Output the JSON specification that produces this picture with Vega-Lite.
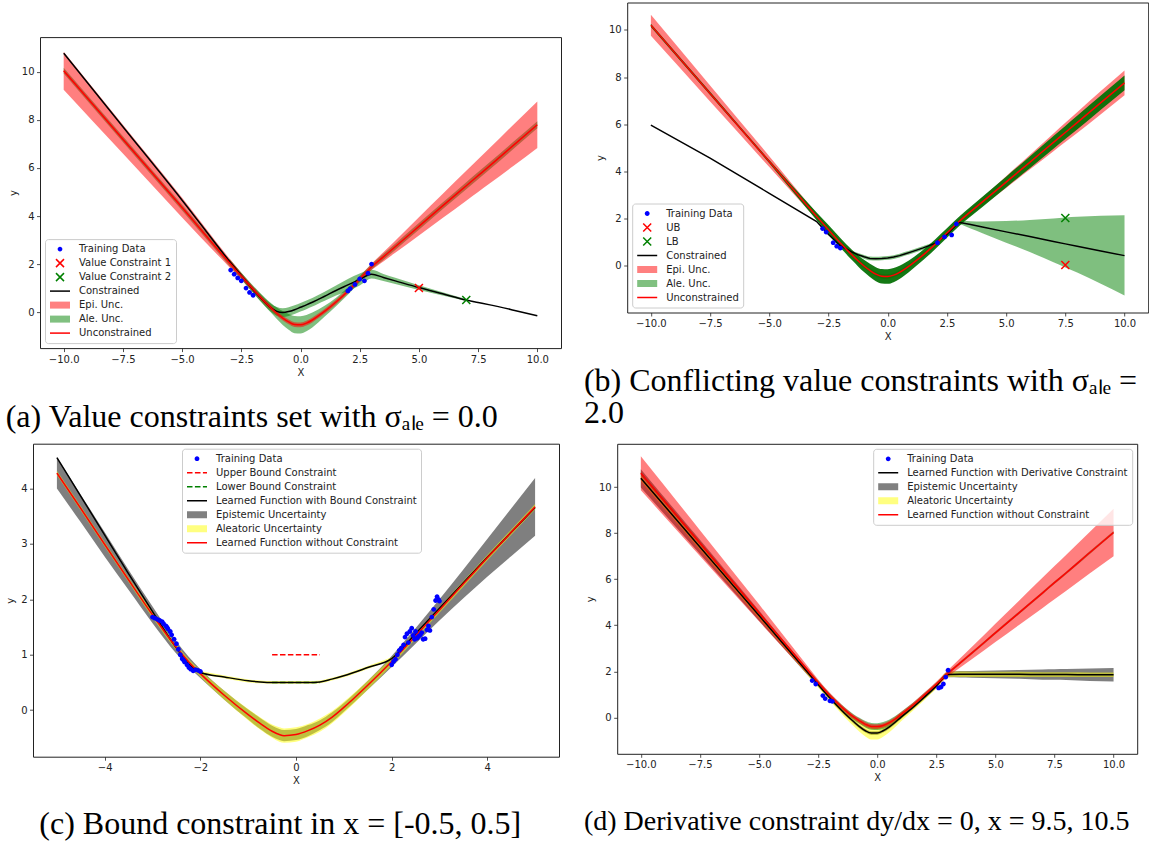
{
  "$schema": "https://vega.github.io/schema/vega-lite/v6.json",
  "padding": {"left": 4, "top": 1.5, "right": 0, "bottom": 0},
  "background": "white",
  "config": {
    "view": {"stroke": "#222", "strokeWidth": 1},
    "axis": {"domain": false, "grid": false, "tickSize": 3.5, "tickWidth": 0.8, "tickColor": "#222", "labelFont": "DejaVu Sans", "labelFontSize": 10, "labelColor": "#222", "labelPadding": 2.5, "titleFont": "DejaVu Sans", "titleFontSize": 10, "titleFontWeight": "normal", "titleColor": "#222", "titlePadding": 3, "labelFlush": false, "labelOverlap": false},
    "legend": {"labelFont": "DejaVu Sans", "labelFontSize": 10, "labelColor": "#222", "labelLimit": 400, "labelOffset": 8, "symbolSize": 400, "symbolStrokeWidth": 1.5, "symbolFillColor": "transparent", "symbolStrokeColor": "transparent", "clipHeight": 12, "rowPadding": 2, "padding": 4, "offset": 5, "fillColor": "rgba(255,255,255,0.8)", "strokeColor": "#cccccc", "cornerRadius": 3, "symbolOffset": 0},
    "title": {"font": "Liberation Serif", "fontSize": 32, "fontWeight": "normal", "color": "#000", "lineHeight": 32}
  },
  "datasets": {
    "a": [
      {"x":-10,"u":10.05,"elo":9.26,"ehi":10.84,"glo":9.93,"ghi":10.17,"c":10.78,"clo":null,"chi":null},
      {"x":-7.5,"u":7.2,"elo":6.6,"ehi":7.8,"glo":7.08,"ghi":7.32,"c":7.72,"clo":null,"chi":null},
      {"x":-5,"u":4.35,"elo":3.94,"ehi":4.76,"glo":4.23,"ghi":4.47,"c":4.66,"clo":null,"chi":null},
      {"x":-3,"u":2.05,"elo":1.87,"ehi":2.23,"glo":1.92,"ghi":2.18,"c":2.12,"clo":2.02,"chi":2.22},
      {"x":-2.5,"u":1.5,"elo":1.37,"ehi":1.63,"glo":1.36,"ghi":1.64,"c":1.52,"clo":1.4,"chi":1.64},
      {"x":-2,"u":0.95,"elo":0.84,"ehi":1.06,"glo":0.8,"ghi":1.1,"c":0.93,"clo":0.79,"chi":1.07},
      {"x":-1.5,"u":0.42,"elo":0.32,"ehi":0.52,"glo":0.24,"ghi":0.6,"c":0.41,"clo":0.25,"chi":0.57},
      {"x":-1.25,"u":0.18,"elo":0.08,"ehi":0.28,"glo":-0.02,"ghi":0.38,"c":0.18,"clo":0.01,"chi":0.35},
      {"x":-1,"u":-0.05,"elo":-0.15,"ehi":0.05,"glo":-0.29,"ghi":0.19,"c":0.03,"clo":-0.15,"chi":0.21},
      {"x":-0.75,"u":-0.25,"elo":-0.35,"ehi":-0.15,"glo":-0.54,"ghi":0.04,"c":-0.02,"clo":-0.2,"chi":0.16},
      {"x":-0.5,"u":-0.41,"elo":-0.51,"ehi":-0.31,"glo":-0.74,"ghi":-0.08,"c":0.02,"clo":-0.16,"chi":0.2},
      {"x":-0.25,"u":-0.52,"elo":-0.62,"ehi":-0.42,"glo":-0.88,"ghi":-0.16,"c":0.1,"clo":-0.08,"chi":0.28},
      {"x":0,"u":-0.53,"elo":-0.63,"ehi":-0.43,"glo":-0.89,"ghi":-0.17,"c":0.2,"clo":0.02,"chi":0.38},
      {"x":0.25,"u":-0.46,"elo":-0.56,"ehi":-0.36,"glo":-0.8,"ghi":-0.12,"c":0.3,"clo":0.12,"chi":0.48},
      {"x":0.5,"u":-0.33,"elo":-0.43,"ehi":-0.23,"glo":-0.64,"ghi":-0.02,"c":0.41,"clo":0.23,"chi":0.59},
      {"x":0.75,"u":-0.16,"elo":-0.26,"ehi":-0.06,"glo":-0.43,"ghi":0.11,"c":0.53,"clo":0.35,"chi":0.71},
      {"x":1,"u":0.02,"elo":-0.08,"ehi":0.12,"glo":-0.21,"ghi":0.25,"c":0.65,"clo":0.46,"chi":0.84},
      {"x":1.5,"u":0.42,"elo":0.32,"ehi":0.52,"glo":0.24,"ghi":0.6,"c":0.9,"clo":0.69,"chi":1.11},
      {"x":2,"u":0.87,"elo":0.77,"ehi":0.97,"glo":0.72,"ghi":1.02,"c":1.13,"clo":0.88,"chi":1.38},
      {"x":2.5,"u":1.37,"elo":1.26,"ehi":1.48,"glo":1.24,"ghi":1.5,"c":1.36,"clo":1.11,"chi":1.61},
      {"x":3,"u":1.88,"elo":1.75,"ehi":2.01,"glo":1.76,"ghi":2.0,"c":1.58,"clo":1.4,"chi":1.76},
      {"x":3.5,"u":2.3,"elo":2.11,"ehi":2.49,"glo":2.17,"ghi":2.43,"c":1.44,"clo":1.29,"chi":1.59},
      {"x":4,"u":2.72,"elo":2.47,"ehi":2.97,"glo":2.59,"ghi":2.85,"c":1.3,"clo":1.17,"chi":1.43},
      {"x":5,"u":3.57,"elo":3.19,"ehi":3.95,"glo":3.43,"ghi":3.71,"c":1.02,"clo":0.92,"chi":1.12},
      {"x":6,"u":4.42,"elo":3.92,"ehi":4.92,"glo":4.28,"ghi":4.56,"c":0.76,"clo":0.69,"chi":0.83},
      {"x":7,"u":5.26,"elo":4.64,"ehi":5.88,"glo":5.11,"ghi":5.41,"c":0.5,"clo":0.46,"chi":0.54},
      {"x":7.5,"u":5.68,"elo":5.0,"ehi":6.36,"glo":5.53,"ghi":5.83,"c":0.4,"clo":null,"chi":null},
      {"x":8,"u":6.1,"elo":5.36,"ehi":6.84,"glo":5.95,"ghi":6.25,"c":0.3,"clo":null,"chi":null},
      {"x":9,"u":6.95,"elo":6.09,"ehi":7.81,"glo":6.8,"ghi":7.1,"c":0.08,"clo":null,"chi":null},
      {"x":10,"u":7.8,"elo":6.83,"ehi":8.77,"glo":7.65,"ghi":7.95,"c":-0.15,"clo":null,"chi":null}
    ],
    "pa": [
      {"x":-2.95,"y":1.75,"s":"Training Data"},{"x":-2.8,"y":1.58,"s":"Training Data"},{"x":-2.65,"y":1.42,"s":"Training Data"},
      {"x":-2.5,"y":1.3,"s":"Training Data"},{"x":-2.3,"y":1.0,"s":"Training Data"},{"x":-2.15,"y":0.82,"s":"Training Data"},
      {"x":-2.0,"y":0.7,"s":"Training Data"},{"x":2.0,"y":0.88,"s":"Training Data"},{"x":2.1,"y":0.98,"s":"Training Data"},
      {"x":2.3,"y":1.15,"s":"Training Data"},{"x":2.5,"y":1.38,"s":"Training Data"},{"x":2.7,"y":1.3,"s":"Training Data"},
      {"x":2.85,"y":1.62,"s":"Training Data"},{"x":3.0,"y":2.0,"s":"Training Data"},
      {"x":5,"y":1.0,"s":"Value Constraint 1"},
      {"x":7,"y":0.5,"s":"Value Constraint 2"}
    ],
    "b": [
      {"x":-10,"u":10.2,"elo":9.75,"ehi":10.65,"glo":10.13,"ghi":10.27,"c":5.95,"clo":null,"chi":null},
      {"x":-7.5,"u":7.3,"elo":6.96,"ehi":7.64,"glo":7.23,"ghi":7.37,"c":4.55,"clo":null,"chi":null},
      {"x":-5,"u":4.4,"elo":4.17,"ehi":4.63,"glo":4.33,"ghi":4.47,"c":3.05,"clo":null,"chi":null},
      {"x":-3,"u":2.07,"elo":1.94,"ehi":2.2,"glo":1.9,"ghi":2.24,"c":1.85,"clo":null,"chi":null},
      {"x":-2.5,"u":1.5,"elo":1.39,"ehi":1.61,"glo":1.3,"ghi":1.7,"c":1.3,"clo":null,"chi":null},
      {"x":-2,"u":0.94,"elo":0.84,"ehi":1.04,"glo":0.73,"ghi":1.15,"c":0.82,"clo":null,"chi":null},
      {"x":-1.5,"u":0.42,"elo":0.32,"ehi":0.52,"glo":0.2,"ghi":0.64,"c":0.55,"clo":0.49,"chi":0.61},
      {"x":-1.25,"u":0.18,"elo":0.08,"ehi":0.28,"glo":-0.06,"ghi":0.42,"c":0.44,"clo":0.37,"chi":0.51},
      {"x":-1,"u":-0.04,"elo":-0.14,"ehi":0.06,"glo":-0.3,"ghi":0.22,"c":0.35,"clo":0.27,"chi":0.43},
      {"x":-0.75,"u":-0.23,"elo":-0.33,"ehi":-0.13,"glo":-0.51,"ghi":0.05,"c":0.28,"clo":0.2,"chi":0.36},
      {"x":-0.5,"u":-0.39,"elo":-0.49,"ehi":-0.29,"glo":-0.69,"ghi":-0.09,"c":0.27,"clo":0.19,"chi":0.35},
      {"x":-0.25,"u":-0.48,"elo":-0.58,"ehi":-0.38,"glo":-0.79,"ghi":-0.17,"c":0.28,"clo":0.2,"chi":0.36},
      {"x":0,"u":-0.49,"elo":-0.59,"ehi":-0.39,"glo":-0.8,"ghi":-0.18,"c":0.3,"clo":0.22,"chi":0.38},
      {"x":0.25,"u":-0.43,"elo":-0.53,"ehi":-0.33,"glo":-0.73,"ghi":-0.13,"c":0.34,"clo":0.26,"chi":0.42},
      {"x":0.5,"u":-0.31,"elo":-0.41,"ehi":-0.21,"glo":-0.59,"ghi":-0.03,"c":0.4,"clo":0.32,"chi":0.48},
      {"x":0.75,"u":-0.15,"elo":-0.25,"ehi":-0.05,"glo":-0.41,"ghi":0.11,"c":0.48,"clo":0.4,"chi":0.56},
      {"x":1,"u":0.03,"elo":-0.07,"ehi":0.13,"glo":-0.21,"ghi":0.27,"c":0.56,"clo":0.48,"chi":0.64},
      {"x":1.5,"u":0.43,"elo":0.33,"ehi":0.53,"glo":0.21,"ghi":0.65,"c":0.73,"clo":0.65,"chi":0.81},
      {"x":2,"u":0.88,"elo":0.78,"ehi":0.98,"glo":0.67,"ghi":1.09,"c":0.92,"clo":0.84,"chi":1.0},
      {"x":2.5,"u":1.36,"elo":1.26,"ehi":1.46,"glo":1.16,"ghi":1.56,"c":1.3,"clo":1.23,"chi":1.37},
      {"x":3,"u":1.84,"elo":1.72,"ehi":1.96,"glo":1.64,"ghi":2.04,"c":1.82,"clo":1.74,"chi":1.9},
      {"x":3.5,"u":2.27,"elo":2.12,"ehi":2.42,"glo":2.06,"ghi":2.48,"c":1.72,"clo":1.55,"chi":1.86},
      {"x":4,"u":2.69,"elo":2.51,"ehi":2.87,"glo":2.47,"ghi":2.91,"c":1.62,"clo":1.35,"chi":1.85},
      {"x":5,"u":3.53,"elo":3.28,"ehi":3.78,"glo":3.3,"ghi":3.76,"c":1.41,"clo":0.95,"chi":1.87},
      {"x":6,"u":4.37,"elo":4.06,"ehi":4.68,"glo":4.12,"ghi":4.62,"c":1.21,"clo":0.55,"chi":1.92},
      {"x":7,"u":5.22,"elo":4.84,"ehi":5.6,"glo":4.95,"ghi":5.49,"c":1.0,"clo":0.12,"chi":1.98},
      {"x":7.5,"u":5.64,"elo":5.23,"ehi":6.05,"glo":5.36,"ghi":5.92,"c":0.9,"clo":-0.1,"chi":2.02},
      {"x":8,"u":6.06,"elo":5.62,"ehi":6.5,"glo":5.77,"ghi":6.35,"c":0.8,"clo":-0.32,"chi":2.05},
      {"x":9,"u":6.91,"elo":6.42,"ehi":7.4,"glo":6.61,"ghi":7.21,"c":0.6,"clo":-0.8,"chi":2.1},
      {"x":10,"u":7.75,"elo":7.22,"ehi":8.28,"glo":7.44,"ghi":8.06,"c":0.4,"clo":-1.3,"chi":2.12}
    ],
    "pb": [
      {"x":-2.75,"y":1.55,"s":"Training Data"},{"x":-2.6,"y":1.4,"s":"Training Data"},{"x":-2.3,"y":0.95,"s":"Training Data"},
      {"x":-2.15,"y":0.8,"s":"Training Data"},{"x":-2.0,"y":0.72,"s":"Training Data"},{"x":2.1,"y":0.95,"s":"Training Data"},
      {"x":2.4,"y":1.2,"s":"Training Data"},{"x":2.7,"y":1.28,"s":"Training Data"},{"x":2.9,"y":1.75,"s":"Training Data"},
      {"x":7.5,"y":0.0,"s":"UB"},
      {"x":7.5,"y":2.0,"s":"LB"}
    ],
    "c": [
      {"x":-5,"u":4.28,"elo":4.0,"ehi":4.56,"ylo":4.24,"yhi":4.32,"c":4.56,"clo":null,"chi":null},
      {"x":-4.5,"u":3.64,"elo":3.39,"ehi":3.89,"ylo":3.6,"yhi":3.68,"c":3.86,"clo":null,"chi":null},
      {"x":-4,"u":2.99,"elo":2.77,"ehi":3.21,"ylo":2.95,"yhi":3.03,"c":3.16,"clo":null,"chi":null},
      {"x":-3.5,"u":2.35,"elo":2.17,"ehi":2.53,"ylo":2.31,"yhi":2.39,"c":2.46,"clo":null,"chi":null},
      {"x":-3,"u":1.72,"elo":1.57,"ehi":1.87,"ylo":1.67,"yhi":1.77,"c":1.78,"clo":null,"chi":null},
      {"x":-2.5,"u":1.13,"elo":1.02,"ehi":1.24,"ylo":1.08,"yhi":1.18,"c":1.12,"clo":null,"chi":null},
      {"x":-2.25,"u":0.88,"elo":0.79,"ehi":0.97,"ylo":0.83,"yhi":0.93,"c":0.84,"clo":null,"chi":null},
      {"x":-2,"u":0.66,"elo":0.58,"ehi":0.74,"ylo":0.6,"yhi":0.72,"c":0.68,"clo":0.655,"chi":0.705},
      {"x":-1.5,"u":0.27,"elo":0.19,"ehi":0.35,"ylo":0.19,"yhi":0.35,"c":0.6,"clo":0.575,"chi":0.625},
      {"x":-1,"u":-0.08,"elo":-0.17,"ehi":0.01,"ylo":-0.18,"yhi":0.02,"c":0.53,"clo":0.5,"chi":0.555},
      {"x":-0.75,"u":-0.24,"elo":-0.34,"ehi":-0.14,"ylo":-0.35,"yhi":-0.13,"c":0.51,"clo":0.485,"chi":0.535},
      {"x":-0.5,"u":-0.38,"elo":-0.48,"ehi":-0.28,"ylo":-0.5,"yhi":-0.26,"c":0.5,"clo":0.475,"chi":0.525},
      {"x":-0.35,"u":-0.44,"elo":-0.54,"ehi":-0.34,"ylo":-0.57,"yhi":-0.31,"c":0.5,"clo":0.475,"chi":0.525},
      {"x":-0.25,"u":-0.46,"elo":-0.56,"ehi":-0.36,"ylo":-0.59,"yhi":-0.33,"c":0.5,"clo":0.475,"chi":0.525},
      {"x":0,"u":-0.44,"elo":-0.54,"ehi":-0.34,"ylo":-0.57,"yhi":-0.31,"c":0.5,"clo":0.475,"chi":0.525},
      {"x":0.25,"u":-0.37,"elo":-0.47,"ehi":-0.27,"ylo":-0.49,"yhi":-0.25,"c":0.5,"clo":0.475,"chi":0.525},
      {"x":0.5,"u":-0.27,"elo":-0.36,"ehi":-0.18,"ylo":-0.39,"yhi":-0.15,"c":0.51,"clo":0.485,"chi":0.535},
      {"x":0.75,"u":-0.13,"elo":-0.22,"ehi":-0.04,"ylo":-0.24,"yhi":-0.02,"c":0.56,"clo":0.535,"chi":0.585},
      {"x":1,"u":0.05,"elo":-0.03,"ehi":0.13,"ylo":-0.05,"yhi":0.15,"c":0.62,"clo":0.595,"chi":0.645},
      {"x":1.5,"u":0.45,"elo":0.37,"ehi":0.53,"ylo":0.37,"yhi":0.53,"c":0.77,"clo":0.745,"chi":0.795},
      {"x":2,"u":0.88,"elo":0.78,"ehi":0.98,"ylo":0.81,"yhi":0.95,"c":0.93,"clo":0.905,"chi":0.955},
      {"x":2.5,"u":1.34,"elo":1.2,"ehi":1.48,"ylo":1.29,"yhi":1.39,"c":1.38,"clo":null,"chi":null},
      {"x":3,"u":1.81,"elo":1.62,"ehi":2.0,"ylo":1.76,"yhi":1.86,"c":1.84,"clo":null,"chi":null},
      {"x":3.5,"u":2.28,"elo":2.02,"ehi":2.54,"ylo":2.23,"yhi":2.33,"c":2.3,"clo":null,"chi":null},
      {"x":4,"u":2.75,"elo":2.41,"ehi":3.09,"ylo":2.7,"yhi":2.8,"c":2.76,"clo":null,"chi":null},
      {"x":4.5,"u":3.21,"elo":2.78,"ehi":3.64,"ylo":3.16,"yhi":3.26,"c":3.21,"clo":null,"chi":null},
      {"x":5,"u":3.67,"elo":3.15,"ehi":4.19,"ylo":3.62,"yhi":3.72,"c":3.66,"clo":null,"chi":null}
    ],
    "cb": [
      {"x":-0.5,"y":1,"s":"Upper Bound Constraint"},{"x":0.5,"y":1,"s":"Upper Bound Constraint"},
      {"x":-0.5,"y":0.5,"s":"Lower Bound Constraint"},{"x":0.5,"y":0.5,"s":"Lower Bound Constraint"}
    ],
    "pc": [
      {"x":-3.0,"y":1.68,"s":"Training Data"},{"x":-2.95,"y":1.66,"s":"Training Data"},{"x":-2.9,"y":1.64,"s":"Training Data"},
      {"x":-2.85,"y":1.62,"s":"Training Data"},{"x":-2.8,"y":1.6,"s":"Training Data"},{"x":-2.77,"y":1.56,"s":"Training Data"},
      {"x":-2.72,"y":1.52,"s":"Training Data"},{"x":-2.7,"y":1.5,"s":"Training Data"},{"x":-2.68,"y":1.47,"s":"Training Data"},
      {"x":-2.63,"y":1.42,"s":"Training Data"},{"x":-2.6,"y":1.36,"s":"Training Data"},{"x":-2.55,"y":1.28,"s":"Training Data"},
      {"x":-2.5,"y":1.2,"s":"Training Data"},{"x":-2.46,"y":1.1,"s":"Training Data"},{"x":-2.42,"y":1.0,"s":"Training Data"},
      {"x":-2.38,"y":0.93,"s":"Training Data"},{"x":-2.35,"y":0.9,"s":"Training Data"},{"x":-2.33,"y":0.87,"s":"Training Data"},
      {"x":-2.28,"y":0.82,"s":"Training Data"},{"x":-2.24,"y":0.77,"s":"Training Data"},{"x":-2.2,"y":0.74,"s":"Training Data"},
      {"x":-2.15,"y":0.71,"s":"Training Data"},{"x":-2.1,"y":0.73,"s":"Training Data"},{"x":-2.05,"y":0.72,"s":"Training Data"},
      {"x":-2.0,"y":0.7,"s":"Training Data"},
      {"x":2.0,"y":0.82,"s":"Training Data"},{"x":2.04,"y":0.88,"s":"Training Data"},{"x":2.08,"y":0.92,"s":"Training Data"},
      {"x":2.12,"y":1.0,"s":"Training Data"},{"x":2.16,"y":1.08,"s":"Training Data"},{"x":2.2,"y":1.12,"s":"Training Data"},
      {"x":2.25,"y":1.18,"s":"Training Data"},{"x":2.28,"y":1.32,"s":"Training Data"},{"x":2.32,"y":1.38,"s":"Training Data"},
      {"x":2.35,"y":1.22,"s":"Training Data"},{"x":2.38,"y":1.42,"s":"Training Data"},{"x":2.42,"y":1.48,"s":"Training Data"},
      {"x":2.45,"y":1.35,"s":"Training Data"},{"x":2.48,"y":1.28,"s":"Training Data"},{"x":2.5,"y":1.42,"s":"Training Data"},
      {"x":2.53,"y":1.3,"s":"Training Data"},{"x":2.56,"y":1.33,"s":"Training Data"},{"x":2.6,"y":1.36,"s":"Training Data"},
      {"x":2.63,"y":1.4,"s":"Training Data"},{"x":2.66,"y":1.28,"s":"Training Data"},{"x":2.7,"y":1.29,"s":"Training Data"},
      {"x":2.74,"y":1.45,"s":"Training Data"},{"x":2.77,"y":1.52,"s":"Training Data"},{"x":2.8,"y":1.44,"s":"Training Data"},
      {"x":2.84,"y":1.68,"s":"Training Data"},{"x":2.88,"y":1.82,"s":"Training Data"},{"x":2.92,"y":1.98,"s":"Training Data"},
      {"x":2.95,"y":2.05,"s":"Training Data"},{"x":2.98,"y":2.0,"s":"Training Data"},{"x":3.0,"y":1.97,"s":"Training Data"}
    ],
    "d": [
      {"x":-10,"u":10.6,"elo":9.86,"ehi":11.34,"glo":10.54,"ghi":10.66,"c":10.38,"klo":9.98,"khi":10.78,"ylo":10.26,"yhi":10.5},
      {"x":-7.5,"u":7.57,"elo":7.01,"ehi":8.13,"glo":7.51,"ghi":7.63,"c":7.4,"klo":7.09,"khi":7.71,"ylo":7.28,"yhi":7.52},
      {"x":-5,"u":4.54,"elo":4.17,"ehi":4.91,"glo":4.48,"ghi":4.6,"c":4.42,"klo":4.2,"khi":4.64,"ylo":4.3,"yhi":4.54},
      {"x":-3,"u":2.12,"elo":1.94,"ehi":2.3,"glo":2.05,"ghi":2.19,"c":2.03,"klo":1.9,"khi":2.16,"ylo":1.91,"yhi":2.15},
      {"x":-2.5,"u":1.52,"elo":1.39,"ehi":1.65,"glo":1.44,"ghi":1.6,"c":1.43,"klo":1.33,"khi":1.53,"ylo":1.31,"yhi":1.55},
      {"x":-2,"u":0.95,"elo":0.84,"ehi":1.06,"glo":0.86,"ghi":1.04,"c":0.84,"klo":0.76,"khi":0.92,"ylo":0.71,"yhi":0.97},
      {"x":-1.5,"u":0.45,"elo":0.35,"ehi":0.55,"glo":0.35,"ghi":0.55,"c":0.3,"klo":0.22,"khi":0.38,"ylo":0.15,"yhi":0.45},
      {"x":-1.25,"u":0.22,"elo":0.12,"ehi":0.32,"glo":0.11,"ghi":0.33,"c":0.05,"klo":-0.03,"khi":0.13,"ylo":-0.12,"yhi":0.22},
      {"x":-1,"u":0.02,"elo":-0.08,"ehi":0.12,"glo":-0.1,"ghi":0.14,"c":-0.18,"klo":-0.26,"khi":-0.1,"ylo":-0.37,"yhi":0.01},
      {"x":-0.75,"u":-0.15,"elo":-0.25,"ehi":-0.05,"glo":-0.28,"ghi":-0.02,"c":-0.4,"klo":-0.48,"khi":-0.32,"ylo":-0.62,"yhi":-0.18},
      {"x":-0.5,"u":-0.3,"elo":-0.4,"ehi":-0.2,"glo":-0.44,"ghi":-0.16,"c":-0.58,"klo":-0.66,"khi":-0.5,"ylo":-0.83,"yhi":-0.33},
      {"x":-0.25,"u":-0.39,"elo":-0.49,"ehi":-0.29,"glo":-0.54,"ghi":-0.24,"c":-0.68,"klo":-0.76,"khi":-0.6,"ylo":-0.96,"yhi":-0.4},
      {"x":0,"u":-0.4,"elo":-0.5,"ehi":-0.3,"glo":-0.55,"ghi":-0.25,"c":-0.68,"klo":-0.76,"khi":-0.6,"ylo":-0.96,"yhi":-0.4},
      {"x":0.25,"u":-0.35,"elo":-0.45,"ehi":-0.25,"glo":-0.5,"ghi":-0.2,"c":-0.58,"klo":-0.66,"khi":-0.5,"ylo":-0.84,"yhi":-0.32},
      {"x":0.5,"u":-0.24,"elo":-0.34,"ehi":-0.14,"glo":-0.38,"ghi":-0.1,"c":-0.42,"klo":-0.5,"khi":-0.34,"ylo":-0.66,"yhi":-0.18},
      {"x":0.75,"u":-0.08,"elo":-0.18,"ehi":0.02,"glo":-0.21,"ghi":0.05,"c":-0.22,"klo":-0.3,"khi":-0.14,"ylo":-0.43,"yhi":-0.01},
      {"x":1,"u":0.12,"elo":0.02,"ehi":0.22,"glo":0.0,"ghi":0.24,"c":0.0,"klo":-0.08,"khi":0.08,"ylo":-0.18,"yhi":0.18},
      {"x":1.5,"u":0.53,"elo":0.43,"ehi":0.63,"glo":0.43,"ghi":0.63,"c":0.42,"klo":0.34,"khi":0.5,"ylo":0.28,"yhi":0.56},
      {"x":2,"u":0.98,"elo":0.88,"ehi":1.08,"glo":0.89,"ghi":1.07,"c":0.88,"klo":0.8,"khi":0.96,"ylo":0.76,"yhi":1.0},
      {"x":2.5,"u":1.44,"elo":1.33,"ehi":1.55,"glo":1.36,"ghi":1.52,"c":1.36,"klo":1.27,"khi":1.45,"ylo":1.24,"yhi":1.48},
      {"x":3,"u":1.92,"elo":1.78,"ehi":2.06,"glo":1.85,"ghi":1.99,"c":1.86,"klo":1.74,"khi":1.98,"ylo":1.74,"yhi":1.98},
      {"x":3.5,"u":2.36,"elo":2.16,"ehi":2.56,"glo":2.3,"ghi":2.42,"c":1.87,"klo":1.73,"khi":2.01,"ylo":1.75,"yhi":1.99},
      {"x":4,"u":2.79,"elo":2.52,"ehi":3.06,"glo":2.73,"ghi":2.85,"c":1.87,"klo":1.72,"khi":2.02,"ylo":1.76,"yhi":1.98},
      {"x":5,"u":3.67,"elo":3.27,"ehi":4.07,"glo":3.61,"ghi":3.73,"c":1.87,"klo":1.7,"khi":2.04,"ylo":1.76,"yhi":1.98},
      {"x":6,"u":4.54,"elo":4.01,"ehi":5.07,"glo":4.48,"ghi":4.6,"c":1.87,"klo":1.68,"khi":2.06,"ylo":1.76,"yhi":1.98},
      {"x":7,"u":5.41,"elo":4.75,"ehi":6.07,"glo":5.35,"ghi":5.47,"c":1.86,"klo":1.64,"khi":2.08,"ylo":1.76,"yhi":1.96},
      {"x":7.5,"u":5.85,"elo":5.13,"ehi":6.57,"glo":5.79,"ghi":5.91,"c":1.86,"klo":1.63,"khi":2.09,"ylo":1.76,"yhi":1.96},
      {"x":8,"u":6.28,"elo":5.5,"ehi":7.06,"glo":6.22,"ghi":6.34,"c":1.86,"klo":1.62,"khi":2.1,"ylo":1.76,"yhi":1.96},
      {"x":9,"u":7.16,"elo":6.26,"ehi":8.06,"glo":7.1,"ghi":7.22,"c":1.85,"klo":1.58,"khi":2.12,"ylo":1.75,"yhi":1.95},
      {"x":10,"u":8.03,"elo":7.0,"ehi":9.06,"glo":7.97,"ghi":8.09,"c":1.85,"klo":1.56,"khi":2.14,"ylo":1.75,"yhi":1.95}
    ],
    "pd": [
      {"x":-2.75,"y":1.6,"s":"Training Data"},{"x":-2.6,"y":1.45,"s":"Training Data"},{"x":-2.3,"y":0.95,"s":"Training Data"},
      {"x":-2.2,"y":0.82,"s":"Training Data"},{"x":-2.0,"y":0.72,"s":"Training Data"},{"x":-1.9,"y":0.7,"s":"Training Data"},
      {"x":2.6,"y":1.28,"s":"Training Data"},{"x":2.7,"y":1.32,"s":"Training Data"},{"x":2.8,"y":1.45,"s":"Training Data"},
      {"x":2.9,"y":1.75,"s":"Training Data"},{"x":3.0,"y":2.05,"s":"Training Data"}
    ]
  },
  "columns": 2,
  "spacing": 20.2,
  "resolve": {"scale": {"fill": "independent", "stroke": "independent", "shape": "independent"}, "legend": {"fill": "independent", "stroke": "independent", "shape": "independent"}},
  "concat": [
    {
      "columns": 1,
      "spacing": 8.6,
      "resolve": {"scale": {"fill": "independent", "stroke": "independent", "shape": "independent"}, "legend": {"fill": "independent", "stroke": "independent", "shape": "independent"}},
      "concat": [
        {"width": 1, "height": 24.7, "data": {"values": []}, "mark": "point", "view": {"stroke": null}},
        {
          "columns": 2,
          "spacing": 0,
          "resolve": {"scale": {"fill": "independent", "stroke": "independent", "shape": "independent"}, "legend": {"fill": "independent", "stroke": "independent", "shape": "independent"}},
          "concat": [
            {"width": 1, "height": 1, "data": {"values": []}, "mark": "point", "view": {"stroke": null}},
            {
              "width": 521, "height": 311,
              "title": {"text": "(a) Value constraints set with σₐₗₑ = 0.0", "orient": "bottom", "anchor": "start", "frame": "group", "dx": -34.3, "offset": 25},
              "encoding": {"x": {"field": "x", "type": "quantitative", "title": "X", "scale": {"domain": [-11, 11], "nice": false, "zero": false}, "axis": {"values": [-10, -7.5, -5, -2.5, 0, 2.5, 5, 7.5, 10], "format": ".1f"}}},
              "layer": [
                {"data": {"name": "a"}, "mark": {"type": "area", "color": "#008000", "opacity": 0.5, "interpolate": "monotone"},
                 "encoding": {"y": {"field": "glo", "type": "quantitative", "title": "y", "scale": {"domain": [-1.5, 11.45], "nice": false, "zero": false}, "axis": {"values": [0, 2, 4, 6, 8, 10], "format": "d"}}, "y2": {"field": "ghi"}}},
                {"data": {"name": "a"}, "transform": [{"filter": "datum.clo != null"}], "mark": {"type": "area", "color": "#008000", "opacity": 0.5, "interpolate": "monotone"},
                 "encoding": {"y": {"field": "clo", "type": "quantitative", "title": "y", "scale": {"domain": [-1.5, 11.45], "nice": false, "zero": false}}, "y2": {"field": "chi"}}},
                {"data": {"name": "a"}, "mark": {"type": "area", "color": "#ff0000", "opacity": 0.5, "interpolate": "monotone"},
                 "encoding": {"y": {"field": "elo", "type": "quantitative", "title": "y", "scale": {"domain": [-1.5, 11.45], "nice": false, "zero": false}}, "y2": {"field": "ehi"}}},
                {"data": {"name": "a"}, "mark": {"type": "line", "color": "#000000", "strokeWidth": 1.5, "interpolate": "monotone"},
                 "encoding": {"y": {"field": "c", "type": "quantitative", "title": "y", "scale": {"domain": [-1.5, 11.45], "nice": false, "zero": false}}}},
                {"data": {"name": "a"}, "mark": {"type": "line", "color": "#ff0000", "strokeWidth": 1.5, "interpolate": "monotone"},
                 "encoding": {"y": {"field": "u", "type": "quantitative", "title": "y", "scale": {"domain": [-1.5, 11.45], "nice": false, "zero": false}}}},
                {"data": {"name": "pa"}, "mark": {"type": "point", "size": 400, "strokeWidth": 1.5, "opacity": 1},
                 "encoding": {
                   "y": {"field": "y", "type": "quantitative", "title": "y", "scale": {"domain": [-1.5, 11.45], "nice": false, "zero": false}},
                   "fill": {"field": "s", "type": "nominal", "scale": {"domain": ["Training Data", "Value Constraint 1", "Value Constraint 2", "Constrained", "Epi. Unc.", "Ale. Unc.", "Unconstrained"], "range": ["#0000ff", "transparent", "transparent", "transparent", "#ff8080", "#80c080", "transparent"]}, "legend": {"orient": "bottom-left", "title": null}},
                   "stroke": {"field": "s", "type": "nominal", "scale": {"domain": ["Training Data", "Value Constraint 1", "Value Constraint 2", "Constrained", "Epi. Unc.", "Ale. Unc.", "Unconstrained"], "range": ["transparent", "#ff0000", "#008000", "#000000", "transparent", "transparent", "#ff0000"]}, "legend": {"orient": "bottom-left", "title": null}},
                   "shape": {"field": "s", "type": "nominal", "scale": {"domain": ["Training Data", "Value Constraint 1", "Value Constraint 2", "Constrained", "Epi. Unc.", "Ale. Unc.", "Unconstrained"], "range": ["M-0.24,0A0.24,0.24,0,1,1,0.24,0A0.24,0.24,0,1,1,-0.24,0Z", "M-0.4,-0.4L0.4,0.4M-0.4,0.4L0.4,-0.4", "M-0.4,-0.4L0.4,0.4M-0.4,0.4L0.4,-0.4", "M-1,0L1,0", "M-1,-0.35L1,-0.35L1,0.35L-1,0.35Z", "M-1,-0.35L1,-0.35L1,0.35L-1,0.35Z", "M-1,0L1,0"]}, "legend": {"orient": "bottom-left", "title": null}}
                 }}
              ]
            }
          ]
        },
        {
          "columns": 2,
          "spacing": 0,
          "resolve": {"scale": {"fill": "independent", "stroke": "independent", "shape": "independent"}, "legend": {"fill": "independent", "stroke": "independent", "shape": "independent"}},
          "concat": [
            {"width": 1, "height": 1, "data": {"values": []}, "mark": "point", "view": {"stroke": null}},
            {
              "width": 526, "height": 313,
              "title": {"text": "(c) Bound constraint in x = [-0.5, 0.5]", "orient": "bottom", "anchor": "start", "frame": "group", "dx": 6.3, "offset": 23.4},
              "encoding": {"x": {"field": "x", "type": "quantitative", "title": "X", "scale": {"domain": [-5.5, 5.5], "nice": false, "zero": false}, "axis": {"values": [-4, -2, 0, 2, 4], "format": "d"}}},
              "layer": [
                {"data": {"name": "c"}, "mark": {"type": "area", "color": "#000000", "opacity": 0.5, "interpolate": "monotone"},
                 "encoding": {"y": {"field": "elo", "type": "quantitative", "title": "y", "scale": {"domain": [-0.84, 4.81], "nice": false, "zero": false}, "axis": {"values": [0, 1, 2, 3, 4], "format": "d", "titlePadding": 5}}, "y2": {"field": "ehi"}}},
                {"data": {"name": "c"}, "mark": {"type": "area", "color": "#ffff00", "opacity": 0.5, "interpolate": "monotone"},
                 "encoding": {"y": {"field": "ylo", "type": "quantitative", "title": "y", "scale": {"domain": [-0.84, 4.81], "nice": false, "zero": false}}, "y2": {"field": "yhi"}}},
                {"data": {"name": "c"}, "transform": [{"filter": "datum.clo != null"}], "mark": {"type": "area", "color": "#ffff00", "opacity": 0.5, "interpolate": "monotone"},
                 "encoding": {"y": {"field": "clo", "type": "quantitative", "title": "y", "scale": {"domain": [-0.84, 4.81], "nice": false, "zero": false}}, "y2": {"field": "chi"}}},
                {"data": {"name": "cb"}, "transform": [{"filter": "datum.s == 'Upper Bound Constraint'"}], "mark": {"type": "line", "color": "#ff0000", "strokeWidth": 1.5, "strokeDash": [5.5, 2.4]},
                 "encoding": {"y": {"field": "y", "type": "quantitative", "title": "y", "scale": {"domain": [-0.84, 4.81], "nice": false, "zero": false}}}},
                {"data": {"name": "cb"}, "transform": [{"filter": "datum.s == 'Lower Bound Constraint'"}], "mark": {"type": "line", "color": "#008000", "strokeWidth": 1.5, "strokeDash": [5.5, 2.4]},
                 "encoding": {"y": {"field": "y", "type": "quantitative", "title": "y", "scale": {"domain": [-0.84, 4.81], "nice": false, "zero": false}}}},
                {"data": {"name": "c"}, "mark": {"type": "line", "color": "#000000", "strokeWidth": 1.5, "interpolate": "monotone"},
                 "encoding": {"y": {"field": "c", "type": "quantitative", "title": "y", "scale": {"domain": [-0.84, 4.81], "nice": false, "zero": false}}}},
                {"data": {"name": "c"}, "mark": {"type": "line", "color": "#ff0000", "strokeWidth": 1.5, "interpolate": "monotone"},
                 "encoding": {"y": {"field": "u", "type": "quantitative", "title": "y", "scale": {"domain": [-0.84, 4.81], "nice": false, "zero": false}}}},
                {"data": {"name": "pc"}, "mark": {"type": "point", "size": 400, "strokeWidth": 1.5, "opacity": 1},
                 "encoding": {
                   "y": {"field": "y", "type": "quantitative", "title": "y", "scale": {"domain": [-0.84, 4.81], "nice": false, "zero": false}},
                   "fill": {"field": "s", "type": "nominal", "scale": {"domain": ["Training Data", "Upper Bound Constraint", "Lower Bound Constraint", "Learned Function with Bound Constraint", "Epistemic Uncertainty", "Aleatoric Uncertainty", "Learned Function without Constraint"], "range": ["#0000ff", "transparent", "transparent", "transparent", "#808080", "#ffff80", "transparent"]}, "legend": {"orient": "none", "legendX": 149, "legendY": 5, "title": null}},
                   "stroke": {"field": "s", "type": "nominal", "scale": {"domain": ["Training Data", "Upper Bound Constraint", "Lower Bound Constraint", "Learned Function with Bound Constraint", "Epistemic Uncertainty", "Aleatoric Uncertainty", "Learned Function without Constraint"], "range": ["transparent", "#ff0000", "#008000", "#000000", "transparent", "transparent", "#ff0000"]}, "legend": {"orient": "none", "legendX": 149, "legendY": 5, "title": null}},
                   "shape": {"field": "s", "type": "nominal", "scale": {"domain": ["Training Data", "Upper Bound Constraint", "Lower Bound Constraint", "Learned Function with Bound Constraint", "Epistemic Uncertainty", "Aleatoric Uncertainty", "Learned Function without Constraint"], "range": ["M-0.24,0A0.24,0.24,0,1,1,0.24,0A0.24,0.24,0,1,1,-0.24,0Z", "M-1,0L-0.45,0M-0.21,0L0.35,0M0.59,0L1,0", "M-1,0L-0.45,0M-0.21,0L0.35,0M0.59,0L1,0", "M-1,0L1,0", "M-1,-0.35L1,-0.35L1,0.35L-1,0.35Z", "M-1,-0.35L1,-0.35L1,0.35L-1,0.35Z", "M-1,0L1,0"]}, "legend": {"orient": "none", "legendX": 149, "legendY": 5, "title": null}}
                 }}
              ]
            }
          ]
        }
      ]
    },
    {
      "columns": 1,
      "spacing": 13.3,
      "resolve": {"scale": {"fill": "independent", "stroke": "independent", "shape": "independent"}, "legend": {"fill": "independent", "stroke": "independent", "shape": "independent"}},
      "concat": [
        {
          "columns": 2,
          "spacing": 0,
          "resolve": {"scale": {"fill": "independent", "stroke": "independent", "shape": "independent"}, "legend": {"fill": "independent", "stroke": "independent", "shape": "independent"}},
          "concat": [
            {"width": 1, "height": 1, "data": {"values": []}, "mark": "point", "view": {"stroke": null}},
            {
              "width": 521, "height": 310,
              "title": {"text": ["(b) Conflicting value constraints with σₐₗₑ =", "2.0"], "orient": "bottom", "anchor": "start", "frame": "group", "dx": -43.3, "offset": 24},
              "encoding": {"x": {"field": "x", "type": "quantitative", "title": "X", "scale": {"domain": [-11, 11], "nice": false, "zero": false}, "axis": {"values": [-10, -7.5, -5, -2.5, 0, 2.5, 5, 7.5, 10], "format": ".1f"}}},
              "layer": [
                {"data": {"name": "b"}, "mark": {"type": "area", "color": "#ff0000", "opacity": 0.5, "interpolate": "monotone"},
                 "encoding": {"y": {"field": "elo", "type": "quantitative", "title": "y", "scale": {"domain": [-2.02, 11.17], "nice": false, "zero": false}, "axis": {"values": [0, 2, 4, 6, 8, 10], "format": "d"}}, "y2": {"field": "ehi"}}},
                {"data": {"name": "b"}, "mark": {"type": "area", "color": "#006e00", "opacity": 0.92, "interpolate": "monotone"},
                 "encoding": {"y": {"field": "glo", "type": "quantitative", "title": "y", "scale": {"domain": [-2.02, 11.17], "nice": false, "zero": false}}, "y2": {"field": "ghi"}}},
                {"data": {"name": "b"}, "transform": [{"filter": "datum.clo != null"}], "mark": {"type": "area", "color": "#008000", "opacity": 0.5, "interpolate": "monotone"},
                 "encoding": {"y": {"field": "clo", "type": "quantitative", "title": "y", "scale": {"domain": [-2.02, 11.17], "nice": false, "zero": false}}, "y2": {"field": "chi"}}},
                {"data": {"name": "b"}, "mark": {"type": "line", "color": "#000000", "strokeWidth": 1.5, "interpolate": "linear"},
                 "encoding": {"y": {"field": "c", "type": "quantitative", "title": "y", "scale": {"domain": [-2.02, 11.17], "nice": false, "zero": false}}}},
                {"data": {"name": "b"}, "mark": {"type": "line", "color": "#ff0000", "strokeWidth": 1.5, "interpolate": "monotone"},
                 "encoding": {"y": {"field": "u", "type": "quantitative", "title": "y", "scale": {"domain": [-2.02, 11.17], "nice": false, "zero": false}}}},
                {"data": {"name": "pb"}, "mark": {"type": "point", "size": 400, "strokeWidth": 1.5, "opacity": 1},
                 "encoding": {
                   "y": {"field": "y", "type": "quantitative", "title": "y", "scale": {"domain": [-2.02, 11.17], "nice": false, "zero": false}},
                   "fill": {"field": "s", "type": "nominal", "scale": {"domain": ["Training Data", "UB", "LB", "Constrained", "Epi. Unc.", "Ale. Unc.", "Unconstrained"], "range": ["#0000ff", "transparent", "transparent", "transparent", "#ff8080", "#80c080", "transparent"]}, "legend": {"orient": "bottom-left", "title": null}},
                   "stroke": {"field": "s", "type": "nominal", "scale": {"domain": ["Training Data", "UB", "LB", "Constrained", "Epi. Unc.", "Ale. Unc.", "Unconstrained"], "range": ["transparent", "#ff0000", "#008000", "#000000", "transparent", "transparent", "#ff0000"]}, "legend": {"orient": "bottom-left", "title": null}},
                   "shape": {"field": "s", "type": "nominal", "scale": {"domain": ["Training Data", "UB", "LB", "Constrained", "Epi. Unc.", "Ale. Unc.", "Unconstrained"], "range": ["M-0.24,0A0.24,0.24,0,1,1,0.24,0A0.24,0.24,0,1,1,-0.24,0Z", "M-0.4,-0.4L0.4,0.4M-0.4,0.4L0.4,-0.4", "M-0.4,-0.4L0.4,0.4M-0.4,0.4L0.4,-0.4", "M-1,0L1,0", "M-1,-0.35L1,-0.35L1,0.35L-1,0.35Z", "M-1,-0.35L1,-0.35L1,0.35L-1,0.35Z", "M-1,0L1,0"]}, "legend": {"orient": "bottom-left", "title": null}}
                 }}
              ]
            }
          ]
        },
        {
          "columns": 2,
          "spacing": 0,
          "resolve": {"scale": {"fill": "independent", "stroke": "independent", "shape": "independent"}, "legend": {"fill": "independent", "stroke": "independent", "shape": "independent"}},
          "concat": [
            {"width": 1, "height": 1, "data": {"values": []}, "mark": "point", "view": {"stroke": null}},
            {
              "width": 520, "height": 310,
              "title": {"text": "(d) Derivative constraint dy/dx = 0, x = 9.5, 10.5", "orient": "bottom", "anchor": "start", "frame": "group", "dx": -33.3, "offset": 25.5, "fontSize": 28},
              "encoding": {"x": {"field": "x", "type": "quantitative", "title": "X", "scale": {"domain": [-11, 11], "nice": false, "zero": false}, "axis": {"values": [-10, -7.5, -5, -2.5, 0, 2.5, 5, 7.5, 10], "format": ".1f"}}},
              "layer": [
                {"data": {"name": "d"}, "mark": {"type": "area", "color": "#000000", "opacity": 0.5, "interpolate": "monotone"},
                 "encoding": {"y": {"field": "klo", "type": "quantitative", "title": "y", "scale": {"domain": [-1.58, 11.88], "nice": false, "zero": false}, "axis": {"values": [0, 2, 4, 6, 8, 10], "format": "d"}}, "y2": {"field": "khi"}}},
                {"data": {"name": "d"}, "mark": {"type": "area", "color": "#ffff00", "opacity": 0.5, "interpolate": "monotone"},
                 "encoding": {"y": {"field": "ylo", "type": "quantitative", "title": "y", "scale": {"domain": [-1.58, 11.88], "nice": false, "zero": false}}, "y2": {"field": "yhi"}}},
                {"data": {"name": "d"}, "mark": {"type": "area", "color": "#008000", "opacity": 0.5, "interpolate": "monotone"},
                 "encoding": {"y": {"field": "glo", "type": "quantitative", "title": "y", "scale": {"domain": [-1.58, 11.88], "nice": false, "zero": false}}, "y2": {"field": "ghi"}}},
                {"data": {"name": "d"}, "mark": {"type": "area", "color": "#ff0000", "opacity": 0.5, "interpolate": "monotone"},
                 "encoding": {"y": {"field": "elo", "type": "quantitative", "title": "y", "scale": {"domain": [-1.58, 11.88], "nice": false, "zero": false}}, "y2": {"field": "ehi"}}},
                {"data": {"name": "d"}, "mark": {"type": "line", "color": "#000000", "strokeWidth": 1.5, "interpolate": "monotone"},
                 "encoding": {"y": {"field": "c", "type": "quantitative", "title": "y", "scale": {"domain": [-1.58, 11.88], "nice": false, "zero": false}}}},
                {"data": {"name": "d"}, "mark": {"type": "line", "color": "#ff0000", "strokeWidth": 1.5, "interpolate": "monotone"},
                 "encoding": {"y": {"field": "u", "type": "quantitative", "title": "y", "scale": {"domain": [-1.58, 11.88], "nice": false, "zero": false}}}},
                {"data": {"name": "pd"}, "mark": {"type": "point", "size": 400, "strokeWidth": 1.5, "opacity": 1},
                 "encoding": {
                   "y": {"field": "y", "type": "quantitative", "title": "y", "scale": {"domain": [-1.58, 11.88], "nice": false, "zero": false}},
                   "fill": {"field": "s", "type": "nominal", "scale": {"domain": ["Training Data", "Learned Function with Derivative Constraint", "Epistemic Uncertainty", "Aleatoric Uncertainty", "Learned Function without Constraint"], "range": ["#0000ff", "transparent", "#808080", "#ffff80", "transparent"]}, "legend": {"orient": "top-right", "title": null}},
                   "stroke": {"field": "s", "type": "nominal", "scale": {"domain": ["Training Data", "Learned Function with Derivative Constraint", "Epistemic Uncertainty", "Aleatoric Uncertainty", "Learned Function without Constraint"], "range": ["transparent", "#000000", "transparent", "transparent", "#ff0000"]}, "legend": {"orient": "top-right", "title": null}},
                   "shape": {"field": "s", "type": "nominal", "scale": {"domain": ["Training Data", "Learned Function with Derivative Constraint", "Epistemic Uncertainty", "Aleatoric Uncertainty", "Learned Function without Constraint"], "range": ["M-0.24,0A0.24,0.24,0,1,1,0.24,0A0.24,0.24,0,1,1,-0.24,0Z", "M-1,0L1,0", "M-1,-0.35L1,-0.35L1,0.35L-1,0.35Z", "M-1,-0.35L1,-0.35L1,0.35L-1,0.35Z", "M-1,0L1,0"]}, "legend": {"orient": "top-right", "title": null}}
                 }}
              ]
            }
          ]
        }
      ]
    }
  ]
}
